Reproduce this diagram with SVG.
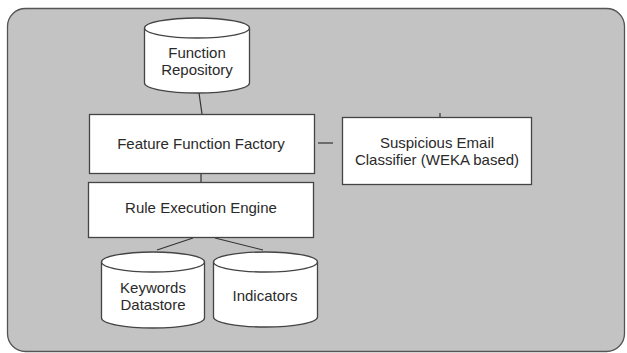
<svg xmlns="http://www.w3.org/2000/svg" width="627" height="353" viewBox="0 0 627 353">
<style>
.box{fill:#fff;stroke:#444;stroke-width:1.3}
.cyl{fill:#fff;stroke:#444;stroke-width:1.3}
.ln{stroke:#333;stroke-width:1.2;fill:none}
text{font-family:"Liberation Sans",Arial,sans-serif;font-size:15px;fill:#2a2a2a;text-anchor:middle}
</style>
<rect x="0" y="0" width="627" height="353" fill="#fff"/>
<rect id="frame" x="7.5" y="8.5" width="617" height="343" rx="18" fill="#c3c3c3" stroke="#555" stroke-width="1.3"/>
<g id="connectors">
<line class="ln" x1="199" y1="93" x2="202" y2="114"/>
<line class="ln" x1="201" y1="174" x2="201" y2="182"/>
<line class="ln" x1="318" y1="143" x2="333" y2="143"/>
<line class="ln" x1="440" y1="113" x2="440" y2="117"/>
<line class="ln" x1="193" y1="238" x2="157" y2="250"/>
<line class="ln" x1="215" y1="238" x2="263" y2="250"/>
</g>
<g id="function-repository">
<path class="cyl" d="M144.5 28 L144.5 83 A52.5 10 0 0 0 249.5 83 L249.5 28 A52.5 10 0 0 0 144.5 28 Z"/>
<path class="cyl" d="M144.5 28 A52.5 10 0 0 0 249.5 28"/>
<text x="197" y="58">Function</text>
<text x="197" y="75">Repository</text>
</g>
<g id="feature-function-factory">
<rect class="box" x="89.5" y="114.5" width="225" height="59"/>
<text x="201" y="149">Feature Function Factory</text>
</g>
<g id="suspicious-email-classifier">
<rect class="box" x="342.5" y="117.5" width="189" height="67"/>
<text x="437" y="148">Suspicious Email</text>
<text x="437" y="165">Classifier (WEKA based)</text>
</g>
<g id="rule-execution-engine">
<rect class="box" x="88.5" y="182.5" width="225" height="55"/>
<text x="201" y="213">Rule Execution Engine</text>
</g>
<g id="keywords-datastore">
<path class="cyl" d="M101.5 262 L101.5 318 A51.5 10 0 0 0 204.5 318 L204.5 262 A51.5 10 0 0 0 101.5 262 Z"/>
<path class="cyl" d="M101.5 262 A51.5 10 0 0 0 204.5 262"/>
<text x="153" y="293">Keywords</text>
<text x="153" y="310">Datastore</text>
</g>
<g id="indicators">
<path class="cyl" d="M213.5 262 L213.5 317 A52 10 0 0 0 317.5 317 L317.5 262 A52 10 0 0 0 213.5 262 Z"/>
<path class="cyl" d="M213.5 262 A52 10 0 0 0 317.5 262"/>
<text x="265" y="301">Indicators</text>
</g>
</svg>
